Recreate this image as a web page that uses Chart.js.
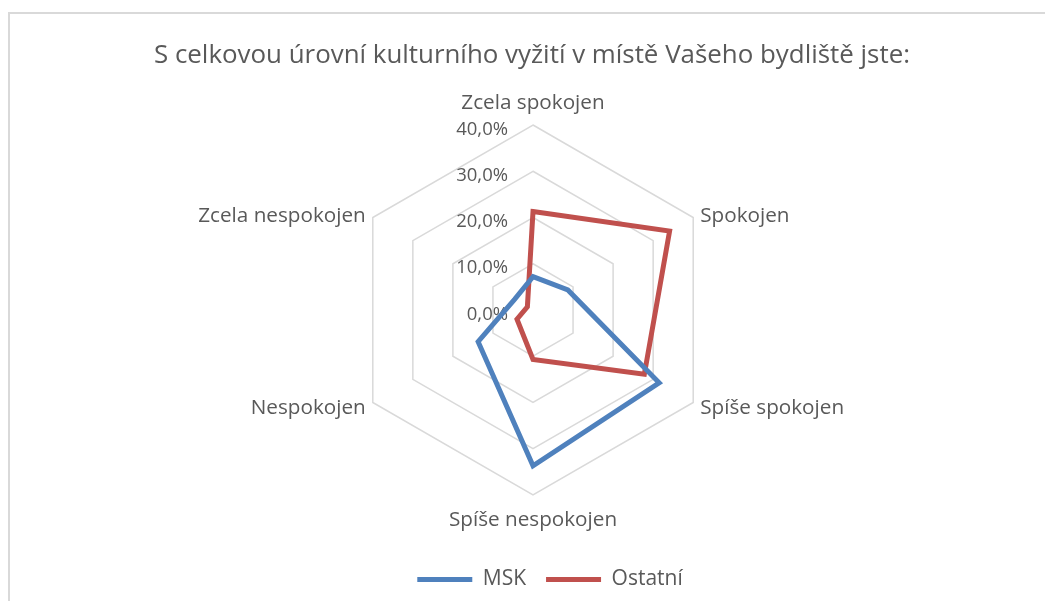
<!DOCTYPE html>
<html><head><meta charset="utf-8">
<script src="https://cdn.jsdelivr.net/npm/chart.js@4.4.0/dist/chart.umd.min.js"></script>
<style>
html,body{margin:0;padding:0;background:#fff;overflow:hidden;width:1045px;height:601px;}
#frame{position:absolute;left:8px;top:12px;width:1100px;height:700px;border:2px solid #D9D9D9;box-sizing:border-box;}
canvas{position:absolute;left:0;top:0;}
</style></head><body>
<div id="frame"></div>
<canvas id="c" width="1045" height="601"></canvas>
<script>
const categories = ['Zcela spokojen','Spokojen','Spíše spokojen','Spíše nespokojen','Nespokojen','Zcela nespokojen'];
const seriesNames = ['MSK','Ostatní'];
const mskValues = [7.2, 8.7, 31.5, 33.7, 13.7, 4.6];
const ostatniValues = [21.3, 34.1, 27.8, 10.7, 4.0, 1.4];
const tickLabels = ['0,0%','10,0%','20,0%','30,0%','40,0%'];
const titleText = 'S celkovou úrovní kulturního vyžití v místě Vašeho bydliště jste:';

const FONT = '"Open Sans", sans-serif';
const TEXT = '#595959';
const CX = 533, CY = 310, R = 185;

const customText = {
  id: 'customText',
  beforeDatasetsDraw(chart) {
    const s = chart.scales.r, ctx = chart.ctx;
    ctx.save();
    ctx.font = '18.5px ' + FONT;
    ctx.fillStyle = TEXT;
    ctx.textAlign = 'right';
    ctx.textBaseline = 'alphabetic';
    s.ticks.forEach(t => {
      const d = s.getDistanceFromCenterForValue(t.value);
      ctx.fillText(t.label, s.xCenter - 25, s.yCenter - d + 9.5);
    });
    ctx.restore();
  },
  afterDraw(chart) {
    const s = chart.scales.r, ctx = chart.ctx;
    ctx.save();
    ctx.fillStyle = TEXT;
    ctx.font = '20.7px ' + FONT;
    ctx.textBaseline = 'alphabetic';
    chart.data.labels.forEach((lab, i) => {
      const p = s.getPointPosition(i, s.drawingArea);
      const dx = p.x - s.xCenter, dy = p.y - s.yCenter;
      let x = p.x, y = p.y;
      if (Math.abs(dx) < 1) {
        ctx.textAlign = 'center';
        y = dy < 0 ? p.y - 16 : p.y + 31;
      } else {
        ctx.textAlign = dx > 0 ? 'left' : 'right';
        x = p.x + (dx > 0 ? 7 : -7);
        y = dy < 0 ? p.y + 4 : p.y + 11.5;
      }
      ctx.fillText(lab, x, y);
    });
    ctx.font = '25.9px ' + FONT;
    ctx.textAlign = 'center';
    ctx.fillText(titleText, 532, 63);
    ctx.restore();
  }
};

new Chart(document.getElementById('c'), {
  type: 'radar',
  data: {
    labels: categories,
    datasets: [
      { label: seriesNames[0], data: mskValues, borderColor: '#4F81BD', backgroundColor: '#4F81BD',
        borderWidth: 5, fill: false, pointRadius: 0, pointHoverRadius: 0, pointStyle: 'line',
        borderJoinStyle: 'miter', borderCapStyle: 'round', tension: 0 },
      { label: seriesNames[1], data: ostatniValues, borderColor: '#C0504D', backgroundColor: '#C0504D',
        borderWidth: 5, fill: false, pointRadius: 0, pointHoverRadius: 0, pointStyle: 'line',
        borderJoinStyle: 'miter', borderCapStyle: 'round', tension: 0 }
    ]
  },
  options: {
    responsive: false,
    animation: false,
    events: [],
    layout: { padding: { left: 55, right: 0, top: 0, bottom: 1 } },
    plugins: {
      title: { display: false },
      tooltip: { enabled: false },
      legend: {
        position: 'bottom',
        labels: {
          usePointStyle: true, pointStyleWidth: 55, boxHeight: 21,
          padding: 20, color: TEXT, font: { family: FONT, size: 21 }
        }
      }
    },
    scales: {
      r: {
        min: 0, max: 40,
        ticks: { stepSize: 10, display: false, callback: (v, i) => tickLabels[i] },
        pointLabels: { display: false },
        angleLines: { display: false },
        grid: { color: '#D9D9D9', lineWidth: 1.5 },
        afterFit(scale) { scale.xCenter = CX; scale.yCenter = CY; scale.drawingArea = R; }
      }
    }
  },
  plugins: [customText]
});
</script>
</body></html>
